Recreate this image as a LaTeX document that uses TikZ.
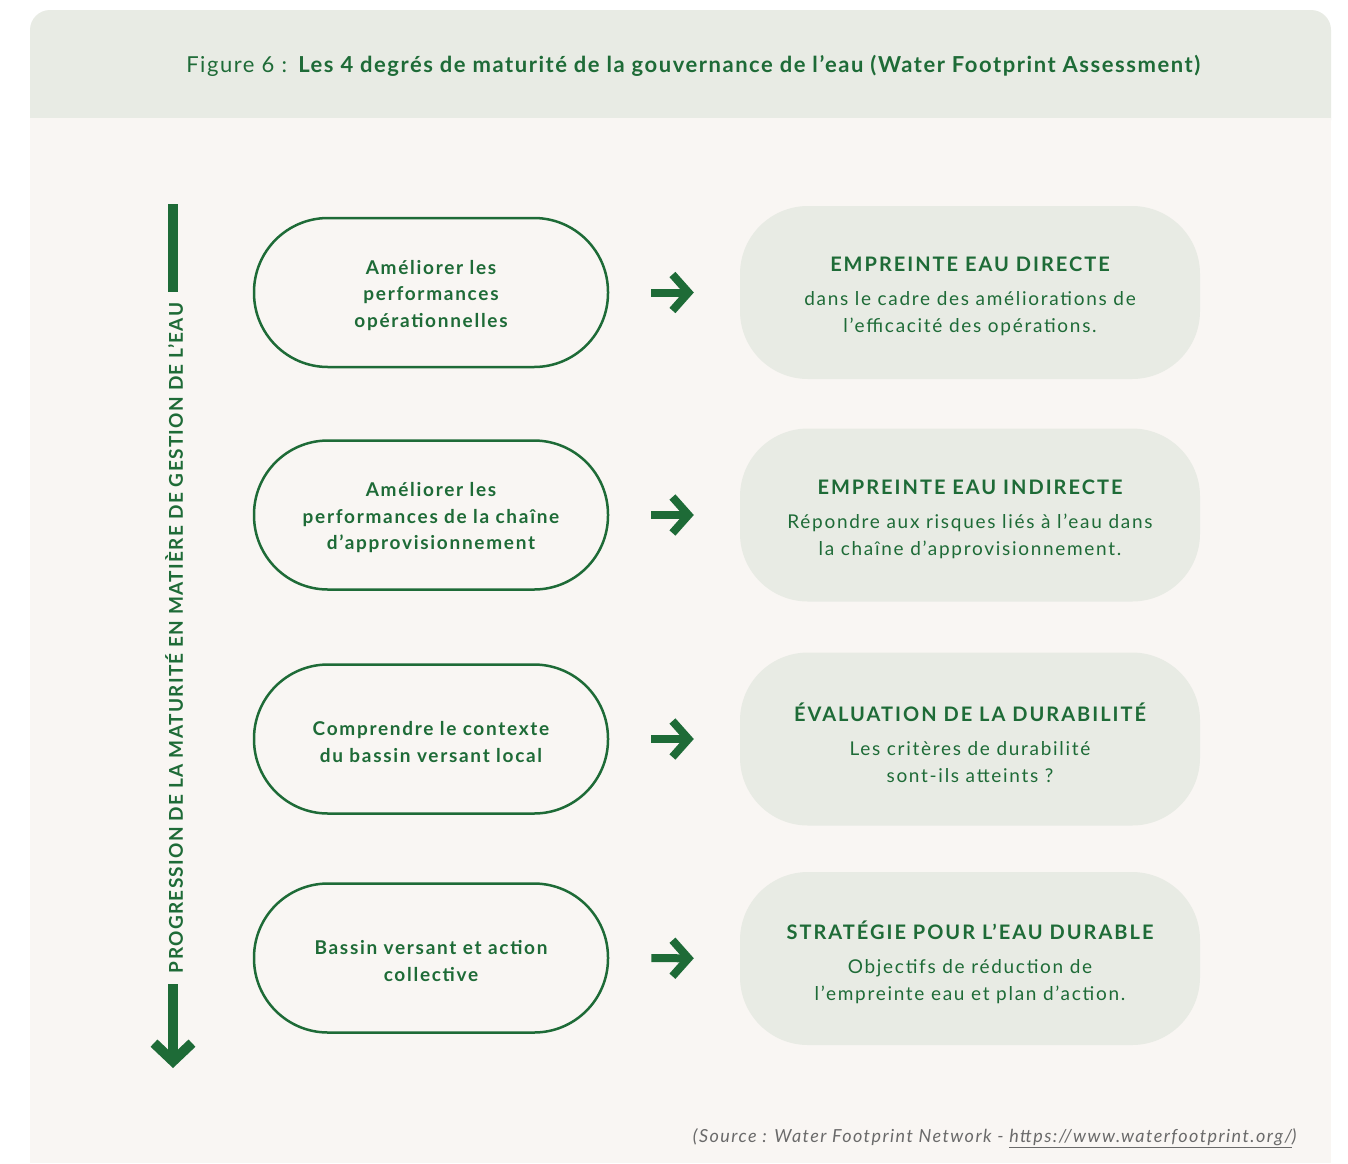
\documentclass[tikz,border=0pt]{standalone}
\usepackage{fontspec}
\setmainfont{Lato}
\newfontfamily\titlefont[LetterSpace=7]{Lato}
\newfontfamily\leftfont[LetterSpace=9]{Lato}
\newfontfamily\rtfont[LetterSpace=10]{Lato}
\newfontfamily\rbfont[LetterSpace=9]{Lato}
\newfontfamily\vfont[LetterSpace=7]{Lato}
\newfontfamily\srcfont[LetterSpace=8]{Lato}
\usetikzlibrary{arrows.meta}
\definecolor{dkgreen}{HTML}{1E6B37}
\definecolor{headbg}{HTML}{E8EBE4}
\definecolor{bodybg}{HTML}{F9F6F3}
\definecolor{srcgray}{HTML}{6A6A6A}
\tikzset{
  leftbox/.style={draw=dkgreen, line width=2.5pt, fill=bodybg, rounded corners=74pt,
    minimum width=354pt, minimum height=149pt},
  lefttext/.style={yshift=-3pt, align=center, text=dkgreen,
    font=\leftfont\bfseries\fontsize{19}{26.5}\selectfont},
  rightbox/.style={fill=headbg, rounded corners=68pt,
    minimum width=460pt, minimum height=173pt},
  righttext/.style={yshift=-4pt, align=center, text=dkgreen,
    font=\rbfont\fontsize{19}{27}\selectfont},
  hflow/.style={draw=dkgreen, line width=8pt, shorten <=42pt, shorten >=46pt,
    -{Straight Barb[length=16pt 0 0, width=36pt 0 0]}},
  vflow/.style={draw=dkgreen, line width=10pt},
}
\newcommand{\btitle}[1]{{\rtfont\bfseries\fontsize{20}{27}\selectfont #1}\\[7pt]}
\begin{document}
\begin{tikzpicture}[x=1pt,y=-1pt]
\useasboundingbox (0,0) rectangle (1348,1163);
\fill[white] (0,0) rectangle (1348,1163);
\fill[headbg, rounded corners=20pt] (30,140) rectangle (1331,10);
\fill[bodybg] (30,118) rectangle (1331,1163);

\node[text=dkgreen, font=\titlefont\fontsize{22}{26}\selectfont] (title) at (694,66)
  {Figure 6 : \textbf{Les 4 degrés de maturité de la gouvernance de l’eau (Water Footprint Assessment)}};

% vertical progression arrow
\coordinate (vtop) at (173,204);
\coordinate (vbot) at (173,1068);
\node[rotate=90, text=dkgreen, inner sep=11pt, font=\vfont\bfseries\fontsize{19}{21}\selectfont] (vtext) at (174,638)
  {PROGRESSION DE LA MATURITÉ EN MATIÈRE DE GESTION DE L’EAU};
\draw[vflow] (vtop) -- (vtop |- vtext.east);
\draw[vflow, -{Straight Barb[length=18pt 0 0, width=38pt 0 0]}] (vtop |- vtext.west) -- (vbot);

% left boxes
\node[leftbox, label={[lefttext]center:{Améliorer les\\performances\\opérationnelles}}] (l1) at (431,292.5) {};
\node[leftbox, label={[lefttext]center:{Améliorer les\\performances de la chaîne\\d’approvisionnement}}] (l2) at (431,515) {};
\node[leftbox, label={[lefttext]center:{Comprendre le contexte\\du bassin versant local}}] (l3) at (431,739) {};
\node[leftbox, label={[lefttext]center:{Bassin versant et action\\collective}}] (l4) at (431,958) {};

% right boxes
\node[rightbox, label={[righttext]center:{\btitle{EMPREINTE EAU DIRECTE}dans le cadre des améliorations de\\l’efficacité des opérations.}}] (r1) at (970,292.5) {};
\node[rightbox, label={[righttext]center:{\btitle{EMPREINTE EAU INDIRECTE}Répondre aux risques liés à l’eau dans\\la chaîne d’approvisionnement.}}] (r2) at (970,515) {};
\node[rightbox, label={[righttext]center:{\btitle{ÉVALUATION DE LA DURABILITÉ}Les critères de durabilité\\sont-ils atteints ?}}] (r3) at (970,739) {};
\node[rightbox, label={[righttext]center:{\btitle{STRATÉGIE POUR L’EAU DURABLE}Objectifs de réduction de\\l’empreinte eau et plan d’action.}}] (r4) at (970,958.5) {};

% connectors
\draw[hflow] (l1) -- (r1);
\draw[hflow] (l2) -- (r2);
\draw[hflow] (l3) -- (r3);
\draw[hflow] (l4) -- (r4);

% source
\node[anchor=east, text=srcgray, font=\srcfont\itshape\fontsize{18}{20}\selectfont] (src) at (1300,1138)
  {(Source : Water Footprint Network - \underline{https://www.waterfootprint.org/})};
\end{tikzpicture}
\end{document}
